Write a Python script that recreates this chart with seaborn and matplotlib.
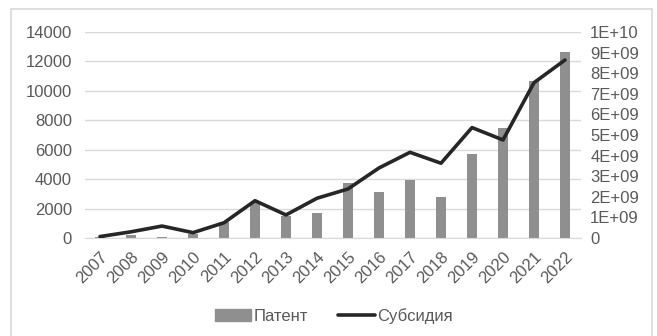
import matplotlib
matplotlib.use("Agg")
import matplotlib.pyplot as plt
import seaborn as sns
import numpy as np
import pandas as pd
from matplotlib.patches import Rectangle
from matplotlib.lines import Line2D
from matplotlib.ticker import FuncFormatter

years = ["2007", "2008", "2009", "2010", "2011", "2012", "2013", "2014",
         "2015", "2016", "2017", "2018", "2019", "2020", "2021", "2022"]
patents = [60, 200, 80, 280, 1100, 2450, 1520, 1680,
           3720, 3100, 3940, 2770, 5710, 7500, 10670, 12620]
subsidy = [0.07e9, 0.3e9, 0.58e9, 0.26e9, 0.74e9, 1.81e9, 1.12e9, 1.93e9,
           2.38e9, 3.4e9, 4.16e9, 3.63e9, 5.36e9, 4.76e9, 7.54e9, 8.64e9]
left_ticks = [0, 2000, 4000, 6000, 8000, 10000, 12000, 14000]
right_ticks = [0, 1e9, 2e9, 3e9, 4e9, 5e9, 6e9, 7e9, 8e9, 9e9, 1e10]
labels = ["Патент", "Субсидия"]

df = pd.DataFrame({"year": years, "patent": patents, "subsidy": subsidy})

sns.set_style("white")
plt.rcParams["font.family"] = ["Liberation Sans", "DejaVu Sans"]
TXT = "#595959"
GRID = "#d9d9d9"
BAR = "#8f8f8f"
LINE = "#262626"
FS = 12

fig = plt.figure(figsize=(6.57, 3.36), dpi=100)
ax = fig.add_axes([84.5 / 657, 1 - 238 / 336, (580.5 - 84.5) / 657, (238 - 32) / 336])
ax2 = ax.twinx()

sns.barplot(data=df, x="year", y="patent", ax=ax, color=BAR, width=0.33,
            saturation=1, edgecolor="none")
sns.pointplot(data=df, x="year", y="subsidy", ax=ax2, color=LINE, markers="",
              linestyles="-", linewidth=2.6)

ax.set_ylim(0, 14000)
ax.set_yticks(left_ticks)
ax.set_yticklabels([str(int(v)) for v in left_ticks])
ax2.set_ylim(0, 1e10)
ax2.set_yticks(right_ticks)
ax2.yaxis.set_major_formatter(FuncFormatter(lambda v, p: "0" if v == 0 else "{:.0E}".format(v)))
ax.set_xlim(-0.5, len(years) - 0.5)

ax.grid(axis="y", color=GRID, linewidth=1)
ax.set_axisbelow(True)
for a in (ax, ax2):
    for s in a.spines.values():
        s.set_visible(False)
    a.set_xlabel("")
    a.set_ylabel("")
ax.spines["bottom"].set_visible(True)
ax.spines["bottom"].set_color(GRID)

ax.tick_params(axis="y", length=0, pad=9, labelsize=FS, labelcolor=TXT)
ax2.tick_params(axis="y", length=0, pad=7, labelsize=FS, labelcolor=TXT)
ax.tick_params(axis="x", length=0, pad=8, labelsize=FS, labelcolor=TXT)
ax2.tick_params(axis="x", length=0)
ax.set_xticks(range(len(years)))
ax.set_xticklabels(years, rotation=45, ha="right", va="top", rotation_mode="anchor")

handles = [Rectangle((0, 0), 1, 1, color=BAR),
           Line2D([0], [0], color=LINE, linewidth=2.6)]
fig.legend(handles, labels, loc="center", bbox_to_anchor=(0.508, 0.06), ncol=2,
           frameon=False, fontsize=FS, labelcolor=TXT, handlelength=2.2,
           handletextpad=0.15, columnspacing=1.8)

fig.patches.append(Rectangle((11 / 657, -0.05), (652 - 11) / 657, (336 - 9) / 336 + 0.05,
                             transform=fig.transFigure, fill=False,
                             edgecolor=GRID, linewidth=1.2))

fig.savefig("out.png", dpi=100, facecolor="white")
